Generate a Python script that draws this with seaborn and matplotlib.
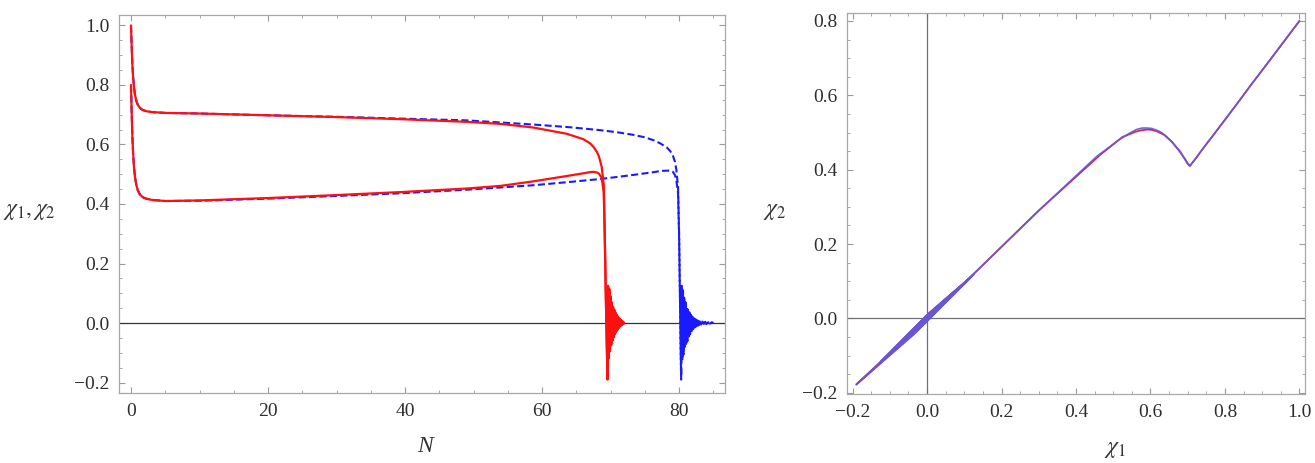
import numpy as np
import matplotlib
matplotlib.use("Agg")
import matplotlib.pyplot as plt
from matplotlib.ticker import MultipleLocator, FuncFormatter
import seaborn as sns

# ---------------- data ----------------
# red solid run: smooth part
red_N = [0, 0.1, 0.2, 0.3, 0.45, 0.6, 0.8, 1.0, 1.3, 1.7, 2.2, 3, 5, 10, 20, 30,
         39.3, 49, 54, 58.7, 63.6, 66.0, 67.0, 67.5, 68.0, 68.3, 68.7, 69.0,
         69.15, 69.3, 69.45]
red_x1 = [1.0, 0.93, 0.87, 0.83, 0.79, 0.765, 0.745, 0.733, 0.723, 0.716, 0.712,
          0.709, 0.706, 0.704, 0.698, 0.692, 0.685, 0.676, 0.669, 0.657, 0.636,
          0.618, 0.604, 0.592, 0.575, 0.560, 0.525, 0.465, 0.30, 0.10, -0.08]
red_x2 = [0.8, 0.707, 0.628, 0.574, 0.521, 0.488, 0.462, 0.446, 0.432, 0.423, 0.418,
          0.414, 0.410, 0.412, 0.420, 0.430, 0.440, 0.452, 0.461, 0.476, 0.494,
          0.503, 0.507, 0.508, 0.506, 0.502, 0.488, 0.44, 0.29, 0.095, -0.075]
# red oscillating tail
red_osc_N = [69.55, 69.59, 69.64, 69.68, 69.73, 69.77, 69.82, 69.86, 69.91, 69.95,
             70.00, 70.04, 70.09, 70.18, 70.27, 70.36, 70.45, 70.54, 70.63, 70.72,
             70.81, 70.90, 70.99, 71.08, 71.17, 71.26, 71.35, 71.44, 71.53, 71.62,
             71.71, 71.80, 71.89, 71.98]
red_osc_x1 = [-0.190, -0.033, 0.125, 0.002, -0.120, -0.003, 0.115, 0.010, -0.095, -0.002,
              0.090, 0.008, -0.075, 0.070, -0.060, 0.055, -0.048, 0.045, -0.038, 0.035,
              -0.030, 0.028, -0.023, 0.022, -0.017, 0.016, -0.012, 0.012, -0.008,
              0.008, -0.005, 0.005, -0.002, 0.001]
red_osc_x2 = [-0.178, -0.040, 0.118, 0.011, -0.112, -0.010, 0.108, 0.017, -0.088, -0.008,
              0.085, 0.014, -0.070, 0.066, -0.056, 0.052, -0.045, 0.042, -0.036, 0.033,
              -0.028, 0.026, -0.022, 0.021, -0.016, 0.015, -0.011, 0.011, -0.008,
              0.007, -0.005, 0.004, -0.002, 0.001]

# blue dashed run: smooth part
blue_N = [0, 0.1, 0.2, 0.3, 0.45, 0.6, 0.8, 1.0, 1.3, 1.7, 2.2, 3, 5, 10, 20, 30,
          39.3, 49, 58.7, 64, 68.5, 71, 73.4, 75, 76.3, 77.3, 78.2, 78.7, 79.1,
          79.4, 79.6, 79.85, 80.0, 80.12, 80.22]
blue_x1 = [1.0, 0.93, 0.87, 0.83, 0.79, 0.765, 0.745, 0.733, 0.723, 0.716, 0.712,
           0.709, 0.706, 0.704, 0.698, 0.693, 0.687, 0.681, 0.667, 0.658, 0.648,
           0.641, 0.632, 0.624, 0.614, 0.603, 0.590, 0.578, 0.562, 0.542, 0.515,
           0.455, 0.30, 0.10, -0.08]
blue_x2 = [0.8, 0.707, 0.628, 0.574, 0.521, 0.488, 0.462, 0.446, 0.432, 0.423, 0.418,
           0.414, 0.410, 0.411, 0.418, 0.427, 0.436, 0.448, 0.463, 0.474, 0.484,
           0.491, 0.498, 0.503, 0.507, 0.511, 0.512, 0.512, 0.508, 0.497, 0.480,
           0.435, 0.29, 0.095, -0.075]
# blue oscillating tail
blue_osc_N = [80.30, 80.34, 80.39, 80.43, 80.48, 80.52, 80.57, 80.61, 80.66, 80.70,
              80.75, 80.79, 80.84, 80.93, 81.02, 81.11, 81.20, 81.30, 81.40, 81.50,
              81.60, 81.70, 81.80, 81.92, 82.04, 82.16, 82.28, 82.40, 82.55, 82.70,
              82.85, 83.00, 83.20, 83.40, 83.60, 83.80, 84.00, 84.25, 84.50, 84.75,
              85.00]
blue_osc_x1 = [-0.190, -0.033, 0.125, 0.001, -0.125, -0.008, 0.110, 0.002, -0.105, -0.010,
               0.085, -0.002, -0.085, 0.070, -0.070, 0.055, -0.062, 0.045, -0.048, 0.036,
               -0.038, 0.028, -0.030, 0.022, -0.022, 0.017, -0.016, 0.013, -0.011,
               0.010, -0.008, 0.007, -0.005, 0.005, -0.004, 0.004, -0.003, 0.003,
               -0.002, 0.002, 0.0]
blue_osc_x2 = [-0.178, -0.041, 0.118, 0.010, -0.116, -0.015, 0.104, 0.010, -0.098, -0.017,
               0.080, 0.005, -0.080, 0.066, -0.066, 0.052, -0.058, 0.042, -0.045, 0.034,
               -0.036, 0.026, -0.028, 0.021, -0.021, 0.016, -0.015, 0.012, -0.010,
               0.009, -0.007, 0.006, -0.005, 0.004, -0.003, 0.003, -0.003, 0.002,
               -0.002, 0.002, 0.0]

x_major_left = 20
y_major = 0.2

# ---------------- assemble series ----------------
rN = np.concatenate([red_N, red_osc_N])
r1 = np.concatenate([red_x1, red_osc_x1])
r2 = np.concatenate([red_x2, red_osc_x2])
bN = np.concatenate([blue_N, blue_osc_N])
b1 = np.concatenate([blue_x1, blue_osc_x1])
b2 = np.concatenate([blue_x2, blue_osc_x2])

sns.set_theme(style="white")
plt.rcParams.update({
    "font.family": ["Liberation Serif", "DejaVu Serif"],
    "mathtext.fontset": "stix",
    "axes.unicode_minus": True,
})

W, H = 1315, 463
fig = plt.figure(figsize=(W / 100, H / 100), dpi=100)
axL = fig.add_axes([119 / W, (H - 393) / H, (725 - 119) / W, (393 - 15) / H])
axR = fig.add_axes([847 / W, (H - 394) / H, (1305 - 847) / W, (394 - 13) / H])

RED = "#ff1010"
BLUE = "#1a1aff"
dash = (0, (3.4, 1.6))

# left panel: blue dashed first, red on top
sns.lineplot(x=bN, y=b1, sort=False, estimator=None, ax=axL, color=BLUE, lw=1.5, linestyle=dash)
sns.lineplot(x=bN, y=b2, sort=False, estimator=None, ax=axL, color=BLUE, lw=1.5, linestyle=dash)
sns.lineplot(x=rN, y=r1, sort=False, estimator=None, ax=axL, color=RED, lw=1.6)
sns.lineplot(x=rN, y=r2, sort=False, estimator=None, ax=axL, color=RED, lw=1.6)
axL.axhline(0, color="#333333", lw=0.9, zorder=1)

# right panel: phase plot
sns.lineplot(x=r1, y=r2, sort=False, estimator=None, ax=axR, color="#e8203a", lw=1.3)
sns.lineplot(x=b1, y=b2, sort=False, estimator=None, ax=axR, color="#5c5ce6", lw=1.2, alpha=0.92)
axR.axhline(0, color="#707070", lw=0.9, zorder=1)
axR.axvline(0, color="#707070", lw=0.9, zorder=1)

axL.set_xlim(-1.75, 86.7)
axL.set_ylim(-0.235, 1.035)
axR.set_xlim(-0.215, 1.015)
axR.set_ylim(-0.2035, 0.8215)

fmt1 = FuncFormatter(lambda v, p: ("%.1f" % v).replace("-", "\u2212") if abs(v) > 1e-9 else "0.0")
fmt0 = FuncFormatter(lambda v, p: "%d" % round(v))

axL.xaxis.set_major_locator(MultipleLocator(x_major_left))
axL.xaxis.set_minor_locator(MultipleLocator(5))
axL.xaxis.set_major_formatter(fmt0)
axL.yaxis.set_major_locator(MultipleLocator(y_major))
axL.yaxis.set_minor_locator(MultipleLocator(0.05))
axL.yaxis.set_major_formatter(fmt1)
axR.xaxis.set_major_locator(MultipleLocator(y_major))
axR.xaxis.set_minor_locator(MultipleLocator(0.05))
axR.xaxis.set_major_formatter(fmt1)
axR.yaxis.set_major_locator(MultipleLocator(y_major))
axR.yaxis.set_minor_locator(MultipleLocator(0.05))
axR.yaxis.set_major_formatter(fmt1)

for ax in (axL, axR):
    ax.set_xlabel("")
    ax.set_ylabel("")
    for s in ax.spines.values():
        s.set_color("#a8a8a8")
        s.set_linewidth(0.9)
        s.set_visible(True)
    ax.tick_params(which="both", direction="in", top=True, right=True,
                   bottom=True, left=True, color="#9a9a9a", labelcolor="#2e2e2e",
                   labelsize=14, pad=7)
    ax.tick_params(which="major", length=4.5, width=0.8)
    ax.tick_params(which="minor", length=2.5, width=0.6)
    ax.set_facecolor("white")
    ax.grid(False)

lab = dict(color="#333333", fontsize=17)
fig.text(56 / W, 1 - 212 / H, r"$\chi_1,\chi_2$", ha="right", va="center", **lab)
fig.text(425 / W, 1 - 446 / H, "N", style="italic", ha="center", va="center", **lab)
fig.text(786 / W, 1 - 212 / H, r"$\chi_2$", ha="right", va="center", **lab)
fig.text(1115 / W, 1 - 449 / H, r"$\chi_1$", ha="center", va="center", **lab)

fig.savefig("out.png", dpi=100, facecolor="white")
